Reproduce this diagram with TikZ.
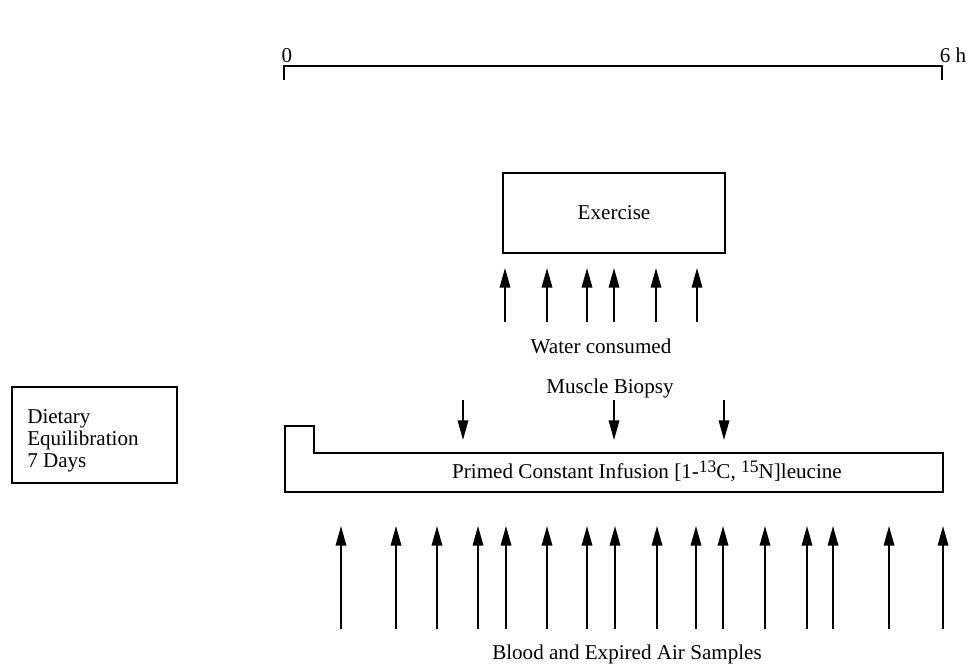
\documentclass[tikz,border=0pt]{standalone}
\usepackage{fontspec}
\setmainfont{Liberation Serif}
\usepackage{tikz}
\usetikzlibrary{arrows.meta, positioning}

\newcommand{\isomass}[1]{\raisebox{0.55ex}{\fontsize{12.5}{12.5}\selectfont #1}}

\tikzset{
  lbl/.style={font=\fontsize{15}{15.6}\selectfont, inner sep=0pt},
  boxline/.style={draw, line width=1pt},
  samplearrow/.style={-{Triangle[length=14pt, width=7.5pt]}, line width=1.2pt}
}

\begin{document}
\begin{tikzpicture}[x=0.025cm, y=-0.025cm]
  \useasboundingbox (0,0) rectangle (970,664);

  % time axis
  \node[lbl, anchor=base] (tzero) at (287,62) {0};
  \node[lbl, anchor=base] (tsix) at (953,62) {6 h};
  \coordinate (axL) at (284,66);
  \coordinate (axR) at (942,66);
  \draw[line width=1.3pt] ([yshift=-10pt]axL) -- (axL) -- (axR) -- ([yshift=-10pt]axR);

  % exercise and water
  \node[boxline, lbl, minimum width=5.55cm, minimum height=2cm] (exercise) at (614,213) {Exercise};
  \foreach \x [count=\i] in {505,547,587,614,656,697} {
    \coordinate (wtail\i) at (\x,322);
    \coordinate (whead\i) at (\x,268);
    \draw[samplearrow] (wtail\i) -- (whead\i);
  }
  \node[lbl, anchor=base] (water) at (601,353) {Water consumed};

  % biopsies
  \node[lbl, anchor=base] (biopsy) at (610,393) {Muscle Biopsy};
  \foreach \x [count=\i] in {463,614,724} {
    \coordinate (btail\i) at (\x,400);
    \coordinate (bhead\i) at (\x,440);
    \draw[samplearrow] (btail\i) -- (bhead\i);
  }

  % diet
  \node[boxline, minimum width=4.125cm, minimum height=2.4cm] (diet) at (94.5,435) {};
  \node[lbl, anchor=base west, align=left] (diettext) at (27,467) {Dietary\\Equilibration\\7 Days};

  % infusion
  \draw[boxline] (285,426) -- (314,426) -- (314,453) -- (943,453) -- (943,492) -- (285,492) -- cycle;
  \node[lbl, anchor=base] (infusion) at (647,478)
    {Primed Constant Infusion [1-\isomass{13}C, \isomass{15}N]leucine};

  % blood and breath
  \foreach \x [count=\i] in {341,396,437,478,506,547,587,615,657,696,723,765,807,833,889,943} {
    \coordinate (stail\i) at (\x,629);
    \coordinate (shead\i) at (\x,526);
    \draw[samplearrow] (stail\i) -- (shead\i);
  }
  \node[lbl, anchor=base] (samples) at (627,659) {Blood and Expired Air Samples};
\end{tikzpicture}
\end{document}
